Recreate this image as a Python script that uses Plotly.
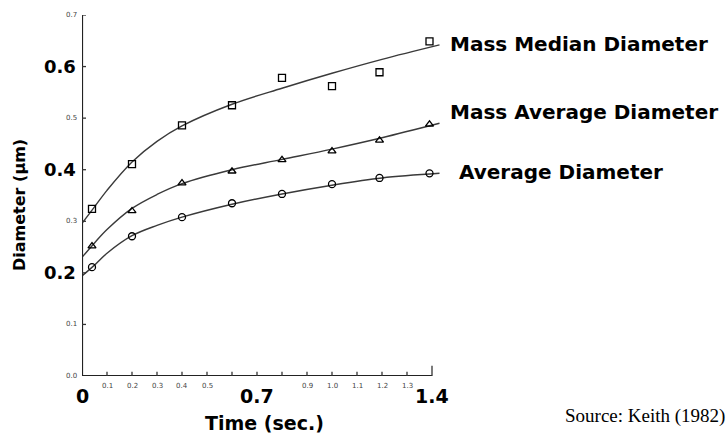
import plotly.graph_objects as go

# ---- data ----
time_pts = [0.04, 0.2, 0.4, 0.6, 0.8, 1.0, 1.19, 1.39]
mass_median = [0.324, 0.411, 0.486, 0.525, 0.578, 0.562, 0.589, 0.649]
mass_average = [0.252, 0.320, 0.374, 0.397, 0.419, 0.436, 0.457, 0.488]
average = [0.211, 0.271, 0.308, 0.335, 0.353, 0.372, 0.384, 0.393]

curve_x = [0.0, 0.05, 0.1, 0.2, 0.3, 0.4, 0.6, 0.8, 1.0, 1.2, 1.43]
curve_median = [0.296, 0.328, 0.360, 0.415, 0.455, 0.485, 0.527, 0.558, 0.587, 0.614, 0.642]
curve_average_mass = [0.230, 0.258, 0.284, 0.325, 0.352, 0.373, 0.400, 0.420, 0.440, 0.462, 0.490]
curve_average = [0.194, 0.215, 0.238, 0.272, 0.292, 0.308, 0.333, 0.353, 0.370, 0.384, 0.393]

series_names = ["Mass Median Diameter", "Mass Average Diameter", "Average Diameter"]

x_small_ticks = [0.1, 0.2, 0.3, 0.4, 0.5, 0.9, 1.0, 1.1, 1.2, 1.3]
x_small_text = ["0.1", "0.2", "0.3", "0.4", "0.5", "0.9", "1.0", "1.1", "1.2", "1.3"]
x_big_ticks = [0.0, 0.7, 1.4]
x_big_text = ["0", "0.7", "1.4"]
x_all_ticks = [0.1, 0.2, 0.3, 0.4, 0.5, 0.6, 0.7, 0.8, 0.9, 1.0, 1.1, 1.2, 1.3, 1.4]
y_small_ticks = [0.0, 0.1, 0.3, 0.5, 0.7]
y_small_text = ["0.0", "0.1", "0.3", "0.5", "0.7"]
y_big_ticks = [0.2, 0.4, 0.6]
y_big_text = ["0.2", "0.4", "0.6"]
y_all_ticks = [0.1, 0.2, 0.3, 0.4, 0.5, 0.6, 0.7]

BOLD = "DejaVu Sans"
fig = go.Figure()

line_style = dict(color="#3a3a3a", width=1.4, shape="spline", smoothing=1.0)
for cy in [curve_median, curve_average_mass, curve_average]:
    fig.add_trace(go.Scatter(x=curve_x, y=cy, mode="lines", line=line_style,
                             showlegend=False, hoverinfo="skip"))

for ys, sym in [(mass_median, "square-open"), (mass_average, "triangle-up-open"),
                (average, "circle-open")]:
    fig.add_trace(go.Scatter(x=time_pts, y=ys, mode="markers",
                             marker=dict(symbol=sym, size=7, color="black",
                                         line=dict(width=1.3, color="black")),
                             showlegend=False))

annotations = []
for v, t in zip(x_small_ticks, x_small_text):
    annotations.append(dict(x=v, y=0, xref="x", yref="y", text=t, showarrow=False,
                            yshift=-10, font=dict(family=BOLD, size=7, color="#444")))
for v, t in zip(x_big_ticks, x_big_text):
    annotations.append(dict(x=v, y=0, xref="x", yref="y", text="<b>%s</b>" % t,
                            showarrow=False, yshift=-20,
                            font=dict(family=BOLD, size=19, color="black")))
for v, t in zip(y_small_ticks, y_small_text):
    annotations.append(dict(x=0, y=v, xref="x", yref="y", text=t, showarrow=False,
                            xanchor="right", xshift=-3,
                            font=dict(family=BOLD, size=7, color="#444")))
for v, t in zip(y_big_ticks, y_big_text):
    annotations.append(dict(x=0, y=v, xref="x", yref="y", text="<b>%s</b>" % t,
                            showarrow=False, xanchor="right", xshift=-4,
                            font=dict(family=BOLD, size=18, color="black")))

# series labels to the right of the curves (paper coords: plot area 82..442 x 15..376 px)
label_pos = [(1.017, 0.92), (1.017, 0.731), (1.042, 0.565)]
for (lx, ly), name in zip(label_pos, series_names):
    annotations.append(dict(x=lx, y=ly, xref="paper", yref="paper", text="<b>%s</b>" % name,
                            showarrow=False, xanchor="left", yanchor="middle",
                            font=dict(family=BOLD, size=20, color="black")))

annotations.append(dict(x=-0.172, y=0.474, xref="paper", yref="paper",
                        xanchor="center", yanchor="middle",
                        text="<b>Diameter (µm)</b>", textangle=-90, showarrow=False,
                        font=dict(family=BOLD, size=16, color="black")))
annotations.append(dict(x=0.508, y=-0.13, xref="paper", yref="paper",
                        xanchor="center", yanchor="middle", text="<b>Time (sec.)</b>",
                        showarrow=False, font=dict(family=BOLD, size=19, color="black")))
annotations.append(dict(x=1.7915, y=-0.111, xref="paper", yref="paper", xanchor="right",
                        yanchor="middle", text="Source: Keith (1982)", showarrow=False,
                        font=dict(family="Liberation Serif", size=19, color="black")))

shapes = [
    dict(type="line", xref="x", yref="y", x0=0, y0=0, x1=0, y1=0.705,
         line=dict(color="#222", width=2.2)),
    dict(type="line", xref="x", yref="y", x0=0, y0=0, x1=1.4, y1=0,
         line=dict(color="#222", width=2.2)),
]
for v in x_all_ticks:
    shapes.append(dict(type="line", xref="x", yref="y", x0=v, x1=v, y0=0,
                       y1=0.008 if v != 1.4 else 0.02, line=dict(color="#333", width=1.3)))
for v in y_all_ticks:
    shapes.append(dict(type="line", xref="x", yref="y", x0=0, x1=0.016, y0=v, y1=v,
                       line=dict(color="#333", width=1.3)))

fig.update_layout(
    width=727, height=438,
    margin=dict(l=82, r=285, t=15, b=62),
    paper_bgcolor="white", plot_bgcolor="white",
    xaxis=dict(range=[0, 1.44], showgrid=False, zeroline=False, showline=False,
               showticklabels=False, ticks=""),
    yaxis=dict(range=[0, 0.7], showgrid=False, zeroline=False, showline=False,
               showticklabels=False, ticks=""),
    annotations=annotations, shapes=shapes,
)

fig.write_html("out.html")
